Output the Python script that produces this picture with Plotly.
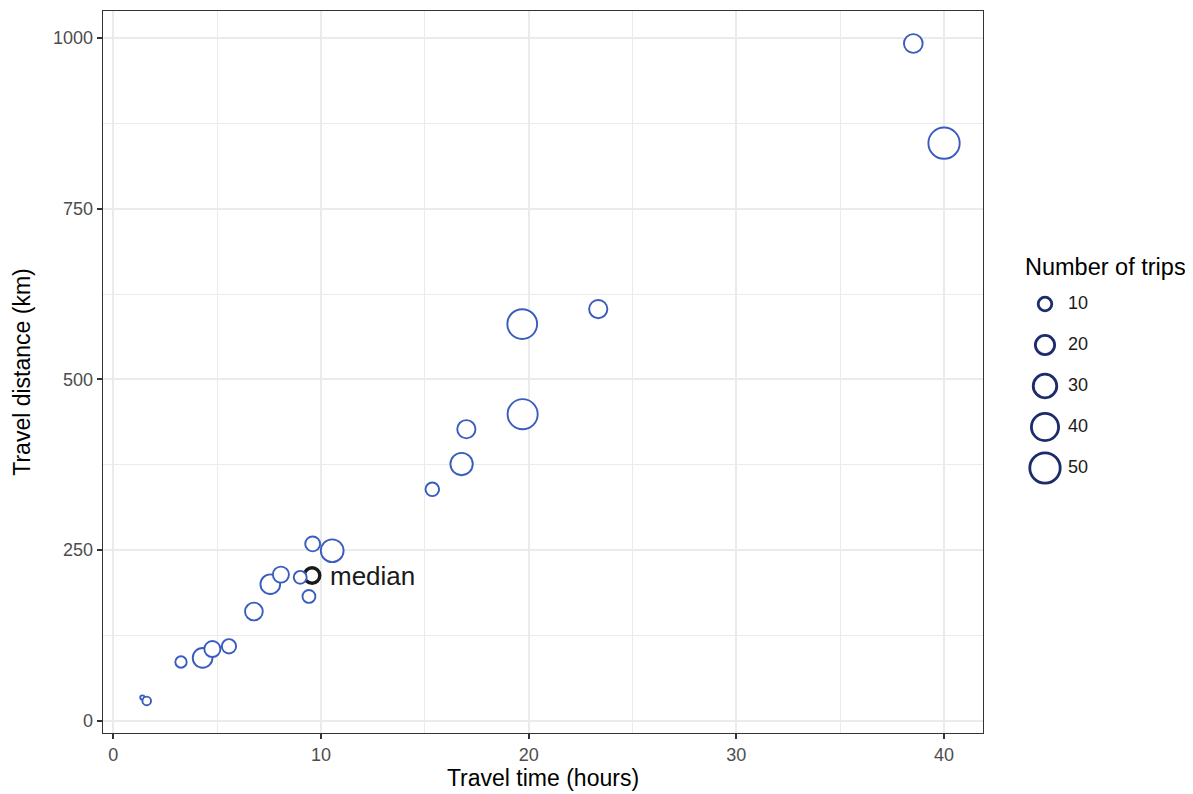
import numpy as np
import plotly.graph_objects as go

# ---- data ----
travel_time = [1.40, 1.61, 3.26, 4.30, 4.77, 5.57, 6.77, 7.56, 8.07, 9.00, 9.42, 9.60,
               10.54, 15.36, 16.77, 17.00, 19.71, 19.69, 23.35, 38.52, 40.00]
travel_dist = [34, 29, 86, 92, 105, 109, 160, 200, 214, 210, 182, 259,
               249, 339, 376, 427, 449, 581, 603, 992, 846]
n_trips = [1, 4, 7, 21, 14, 11, 17, 21, 14, 9, 9, 12,
           28, 10, 27, 18, 49, 48, 18, 19, 53]

median_time = 9.57
median_dist = 212.7
median_trips = 13

legend_values = [10, 20, 30, 40, 50]
x_ticks = [0, 10, 20, 30, 40]
y_ticks = [0, 250, 500, 750, 1000]


def size_px(n):
    return 4.3 * np.sqrt(np.asarray(n, dtype=float))


# the page body has an 8px margin; lay out in page pixels minus that offset
OFF = 8
W, H = 1193 - OFF, 794 - OFF
px_l, px_r, px_t, px_b = 102.7 - OFF, 983.3 - OFF, 11.0 - OFF, 733.0 - OFF

FONT = "Liberation Sans, Arial, sans-serif"

fig = go.Figure()

# median point (drawn first, blue points go on top)
fig.add_trace(go.Scatter(
    x=[median_time], y=[median_dist], mode="markers",
    marker=dict(size=float(size_px(median_trips)), color="white", opacity=1,
                line=dict(color="#1a1a1a", width=3.4)),
    showlegend=False, hoverinfo="skip", xaxis="x", yaxis="y"))

fig.add_trace(go.Scatter(
    x=travel_time, y=travel_dist, mode="markers",
    marker=dict(size=size_px(n_trips), sizemode="diameter", color="white", opacity=1,
                line=dict(color="#3a5bbf", width=1.9)),
    showlegend=False, customdata=n_trips,
    hovertemplate="%{x} h, %{y} km, %{customdata} trips<extra></extra>",
    xaxis="x", yaxis="y"))

# hand-made size legend
leg_labels = [str(v) for v in legend_values]
fig.add_trace(go.Scatter(
    x=[25.0] * len(legend_values), y=leg_labels, mode="markers",
    marker=dict(size=size_px(legend_values), color="white", opacity=1,
                line=dict(color="#1c2b6b", width=2.8)),
    showlegend=False, hoverinfo="skip", xaxis="x2", yaxis="y2", cliponaxis=False))
fig.add_trace(go.Scatter(
    x=[48.0] * len(legend_values), y=leg_labels, mode="text",
    text=leg_labels, textposition="middle right",
    textfont=dict(family=FONT, size=18, color="#1a1a1a"),
    showlegend=False, hoverinfo="skip", xaxis="x2", yaxis="y2", cliponaxis=False))

axis_font = dict(family=FONT, size=18, color="#4d4d4d")
title_font = dict(family=FONT, size=23, color="#000000")

fig.update_layout(
    width=W, height=H,
    margin=dict(l=0, r=0, t=0, b=0),
    paper_bgcolor="white", plot_bgcolor="white",
    font=dict(family=FONT),
    xaxis=dict(
        domain=[px_l / W, px_r / W], range=[-0.51, 41.89],
        tickvals=x_ticks, ticktext=[str(v) for v in x_ticks],
        ticks="outside", ticklen=5, tickwidth=1.5, tickcolor="#333333",
        tickfont=axis_font, showgrid=True, gridcolor="#ebebeb", gridwidth=1.8,
        minor=dict(showgrid=True, gridcolor="#ebebeb", gridwidth=0.9, dtick=5, tick0=0),
        zeroline=False, showline=True, mirror=True, linecolor="#333333", linewidth=1.2,
        title=dict(text="Travel time (hours)", font=title_font, standoff=5),
    ),
    yaxis=dict(
        domain=[1 - px_b / H, 1 - px_t / H], range=[-18.0, 1039.6],
        tickvals=y_ticks, ticktext=[str(v) for v in y_ticks],
        ticks="outside", ticklen=5, tickwidth=1.5, tickcolor="#333333",
        tickfont=axis_font, showgrid=True, gridcolor="#ebebeb", gridwidth=1.8,
        minor=dict(showgrid=True, gridcolor="#ebebeb", gridwidth=0.9, dtick=125, tick0=0),
        zeroline=False, showline=True, mirror=True, linecolor="#333333", linewidth=1.2,
        title=dict(text="Travel distance (km)", font=title_font, standoff=15),
    ),
    xaxis2=dict(domain=[(1020 - OFF) / W, (1120 - OFF) / W], range=[0, 100],
                visible=False, fixedrange=True),
    yaxis2=dict(domain=[1 - (488.5 - OFF) / H, 1 - (283.5 - OFF) / H], type="category",
                categoryorder="array", categoryarray=leg_labels,
                range=[len(legend_values) - 0.5, -0.5], autorange=False,
                visible=False, fixedrange=True),
    annotations=[
        dict(text="Number of trips", x=(1023 - OFF) / W, y=1 - (267 - OFF) / H,
             xref="paper", yref="paper",
             xanchor="left", yanchor="middle", showarrow=False,
             font=dict(family=FONT, size=23.5, color="#000000")),
        dict(text="median", x=median_time, y=median_dist, xref="x", yref="y",
             xanchor="left", yanchor="middle", xshift=16, yshift=0, showarrow=False,
             font=dict(family=FONT, size=26, color="#1a1a1a")),
    ],
)

fig.write_html("out.html")
